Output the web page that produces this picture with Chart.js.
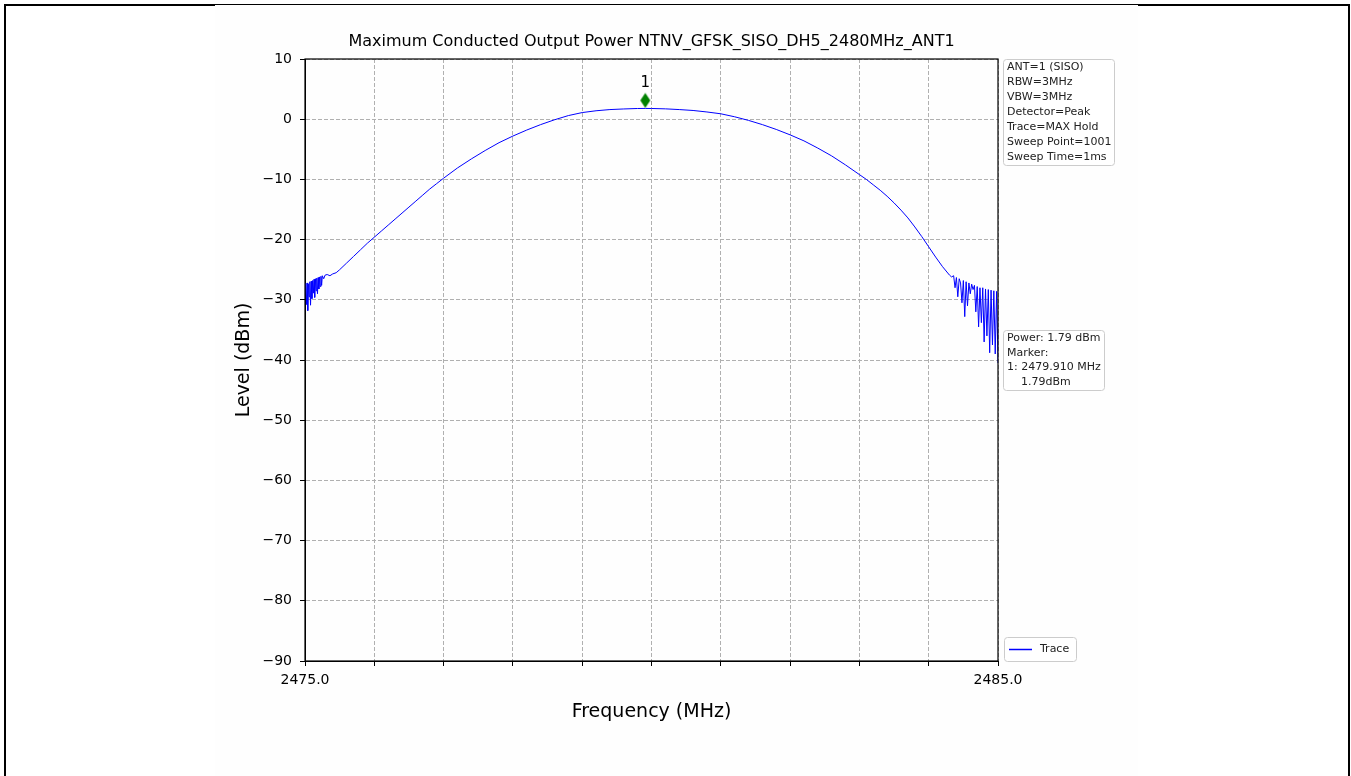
<!DOCTYPE html>
<html><head><meta charset="utf-8">
<script src="https://cdn.jsdelivr.net/npm/chart.js@4.4.1/dist/chart.umd.min.js"></script>
<style>
html,body{margin:0;padding:0;background:#fff;width:1351px;height:776px;overflow:hidden}
#frame{position:absolute;left:4px;top:4px;width:1342px;height:800px;border:2px solid #000;border-bottom:none}
#fig{position:absolute;left:215px;top:5px;width:923px;height:771px;background:#fefefe}
#wrap{position:absolute;left:0;top:0;width:1351px;height:776px}
</style></head><body>
<div id="frame"></div><div id="fig"></div>
<div id="wrap"><canvas id="c" width="1351" height="776"></canvas></div>
<script>
// ---- data ----
const freqMHz = [
 2475.00,2475.01,2475.02,2475.03,2475.04,2475.05,2475.06,2475.07,2475.08,2475.09,
 2475.10,2475.11,2475.12,2475.13,2475.14,2475.15,2475.16,2475.17,2475.18,2475.19,
 2475.20,2475.21,2475.22,2475.23,2475.24,2475.25,2475.27,2475.29,2475.32,2475.36,
 2475.40,2475.45,
 2475.5,2475.6,2475.7,2475.8,2475.9,2476.0,2476.1,2476.2,2476.3,2476.4,2476.5,2476.6,
 2476.7,2476.8,2476.9,2477.0,2477.2,2477.4,2477.6,2477.8,2478.0,2478.2,2478.4,2478.6,
 2478.8,2479.0,2479.2,2479.4,2479.6,2479.8,2479.91,2480.0,2480.2,2480.4,2480.6,2480.8,
 2481.0,2481.2,2481.4,2481.6,2481.8,2482.0,2482.2,2482.4,2482.6,2482.8,2483.0,2483.1,
 2483.2,2483.3,2483.4,2483.5,2483.6,2483.7,2483.8,2483.9,2484.0,2484.1,2484.2,2484.3,
 2484.33,2484.36,2484.38,2484.40,2484.42,2484.44,2484.46,2484.48,2484.50,2484.52,
 2484.54,2484.56,2484.58,2484.60,2484.62,2484.64,2484.66,2484.68,2484.70,2484.72,
 2484.74,2484.76,2484.78,2484.80,2484.82,2484.84,2484.86,2484.88,2484.90,2484.92,
 2484.94,2484.96,2484.98,2485.00
];
const levelDbm = [
 -27.3,-27.5,-30.8,-27.2,-31.8,-27.4,-29.5,-27.0,-30.9,-26.9,
 -29.8,-26.8,-28.9,-26.6,-29.6,-26.5,-28.5,-26.4,-29.0,-26.3,
 -28.2,-26.2,-27.8,-26.1,-27.6,-26.0,-26.5,-25.9,-25.8,-26.0,
 -25.7,-25.5,
 -25.0,-23.9,-22.8,-21.7,-20.6,-19.6,-18.6,-17.6,-16.6,-15.6,-14.6,-13.6,
 -12.6,-11.6,-10.7,-9.8,-8.1,-6.6,-5.2,-3.9,-2.8,-1.8,-0.9,-0.1,
 0.6,1.1,1.4,1.6,1.7,1.78,1.79,1.78,1.72,1.6,1.45,1.2,
 0.9,0.4,-0.2,-0.9,-1.7,-2.6,-3.6,-4.8,-6.1,-7.6,-9.2,-10.0,
 -10.9,-11.8,-12.8,-13.9,-15.1,-16.4,-17.9,-19.5,-21.2,-22.9,-24.5,-25.9,
 -26.2,-26.0,-28.0,-26.3,-29.5,-26.5,-27.2,-30.5,-26.8,-32.8,
 -27.0,-31.0,-27.2,-29.0,-27.4,-28.3,-27.6,-32.0,-27.8,-34.5,
 -28.0,-33.8,-28.0,-37.0,-28.2,-36.0,-28.3,-38.8,-28.4,-37.5,
 -28.5,-39.0,-28.6,-40.5
];
const markerFreq = 2479.91;
const markerLevel = 1.79;
const xTicks = [2475, 2485];
const yTicks = [10, 0, -10, -20, -30, -40, -50, -60, -70, -80, -90];
const titleText = 'Maximum Conducted Output Power NTNV_GFSK_SISO_DH5_2480MHz_ANT1';
const infoLines = ['ANT=1 (SISO)','RBW=3MHz','VBW=3MHz','Detector=Peak','Trace=MAX Hold','Sweep Point=1001','Sweep Time=1ms'];
const markerLines = ['Power: 1.79 dBm','Marker:','1: 2479.910 MHz','    1.79dBm'];

const FONT = "'DejaVu Sans', sans-serif";

// diamond marker image (diamond sits above the data point, as in the reference)
const dm = document.createElement('canvas');
dm.width = 12; dm.height = 32;
(function(){
  const g = dm.getContext('2d');
  g.fillStyle = '#008000';
  g.beginPath();
  g.moveTo(6, 0.5); g.lineTo(11, 8); g.lineTo(6, 15.5); g.lineTo(1, 8); g.closePath();
  g.fill();
})();

const decor = {
  id: 'decor',
  afterDraw(chart) {
    const ctx = chart.ctx, ca = chart.chartArea;
    ctx.save();
    // frame
    ctx.strokeStyle = '#000'; ctx.lineWidth = 1.2;
    ctx.strokeRect(ca.left, ca.top, ca.right - ca.left, ca.bottom - ca.top);
    // title centred over the plot area
    ctx.fillStyle = '#000';
    ctx.font = '16px ' + FONT;
    ctx.textAlign = 'center'; ctx.textBaseline = 'middle';
    ctx.fillText(titleText, (ca.left + ca.right) / 2, ca.top - 17);
    // marker label
    const meta = chart.getDatasetMeta(0);
    const p = meta.data[0];
    ctx.font = '15px ' + FONT;
    ctx.fillText('1', p.x, p.y - 25);
    // boxes
    function box(x, y, w, h) {
      ctx.beginPath();
      ctx.roundRect(x + 0.5, y + 0.5, w, h, 3);
      ctx.fillStyle = 'rgba(255,255,255,0.85)';
      ctx.fill();
      ctx.strokeStyle = '#cccccc'; ctx.lineWidth = 1;
      ctx.stroke();
    }
    ctx.font = '11px ' + FONT;
    ctx.textAlign = 'left'; ctx.textBaseline = 'middle';
    const bx = ca.right + 5;
    box(bx, ca.top, 111, 106);
    ctx.fillStyle = '#222';
    infoLines.forEach((t, i) => ctx.fillText(t, bx + 4, ca.top + 8 + i * 15));
    box(bx, 330, 101, 60);
    ctx.fillStyle = '#222';
    markerLines.forEach((t, i) => ctx.fillText(t, bx + 4, 338 + i * 14.7));
    box(bx + 1, 637, 72, 24);
    ctx.strokeStyle = '#0000ff'; ctx.lineWidth = 1.5;
    ctx.beginPath(); ctx.moveTo(bx + 6, 649.5); ctx.lineTo(bx + 29, 649.5); ctx.stroke();
    ctx.fillStyle = '#222';
    ctx.fillText('Trace', bx + 37, 649.5);
    ctx.restore();
  }
};

new Chart(document.getElementById('c'), {
  type: 'line',
  data: {
    datasets: [
      {
        data: [{x: markerFreq, y: markerLevel}],
        showLine: false,
        pointStyle: dm,
        pointRadius: 8,
        borderColor: '#008000',
        backgroundColor: '#008000'
      },
      {
        data: freqMHz.map((f, i) => ({x: f, y: levelDbm[i]})),
        borderColor: '#0000ff',
        borderWidth: 1,
        pointRadius: 0,
        tension: 0,
        fill: false
      }
    ]
  },
  options: {
    responsive: false,
    devicePixelRatio: 1,
    animation: false,
    events: [],
    layout: { padding: { left: 225, right: 353, top: 59, bottom: 45 } },
    plugins: {
      legend: { display: false },
      tooltip: { enabled: false },
      title: { display: false }
    },
    scales: {
      x: {
        type: 'linear', min: 2475, max: 2485,
        ticks: {
          stepSize: 1, autoSkip: false, maxRotation: 0, color: '#000', padding: 6,
          font: { family: FONT, size: 14 },
          callback: (v) => xTicks.includes(v) ? v.toFixed(1) : ''
        },
        grid: { color: '#b0b0b0', lineWidth: 1, tickLength: 5, tickColor: '#000', tickWidth: 1, tickBorderDash: [] },
        border: { display: true, color: '#000', width: 1, dash: [4, 2] },
        title: { display: true, text: 'Frequency (MHz)', color: '#000', font: { family: FONT, size: 19 }, padding: { top: 0, bottom: 8 } },
        afterFit(s) { s.height = 70; }
      },
      y: {
        min: -90, max: 10,
        afterBuildTicks(s) { s.ticks = yTicks.map(v => ({value: v})); },
        ticks: {
          color: '#000', padding: 8,
          font: { family: FONT, size: 14 },
          callback: (v) => v < 0 ? '\u2212' + Math.abs(v) : String(v)
        },
        grid: { color: '#b0b0b0', lineWidth: 1, tickLength: 5, tickColor: '#000', tickWidth: 1, tickBorderDash: [] },
        border: { display: true, color: '#000', width: 1, dash: [4, 2] },
        title: { display: true, text: 'Level (dBm)', color: '#000', font: { family: FONT, size: 19 }, padding: { top: 8, bottom: 0 } },
        afterFit(s) { s.width = 80; }
      }
    }
  },
  plugins: [decor]
});
</script>
</body></html>
